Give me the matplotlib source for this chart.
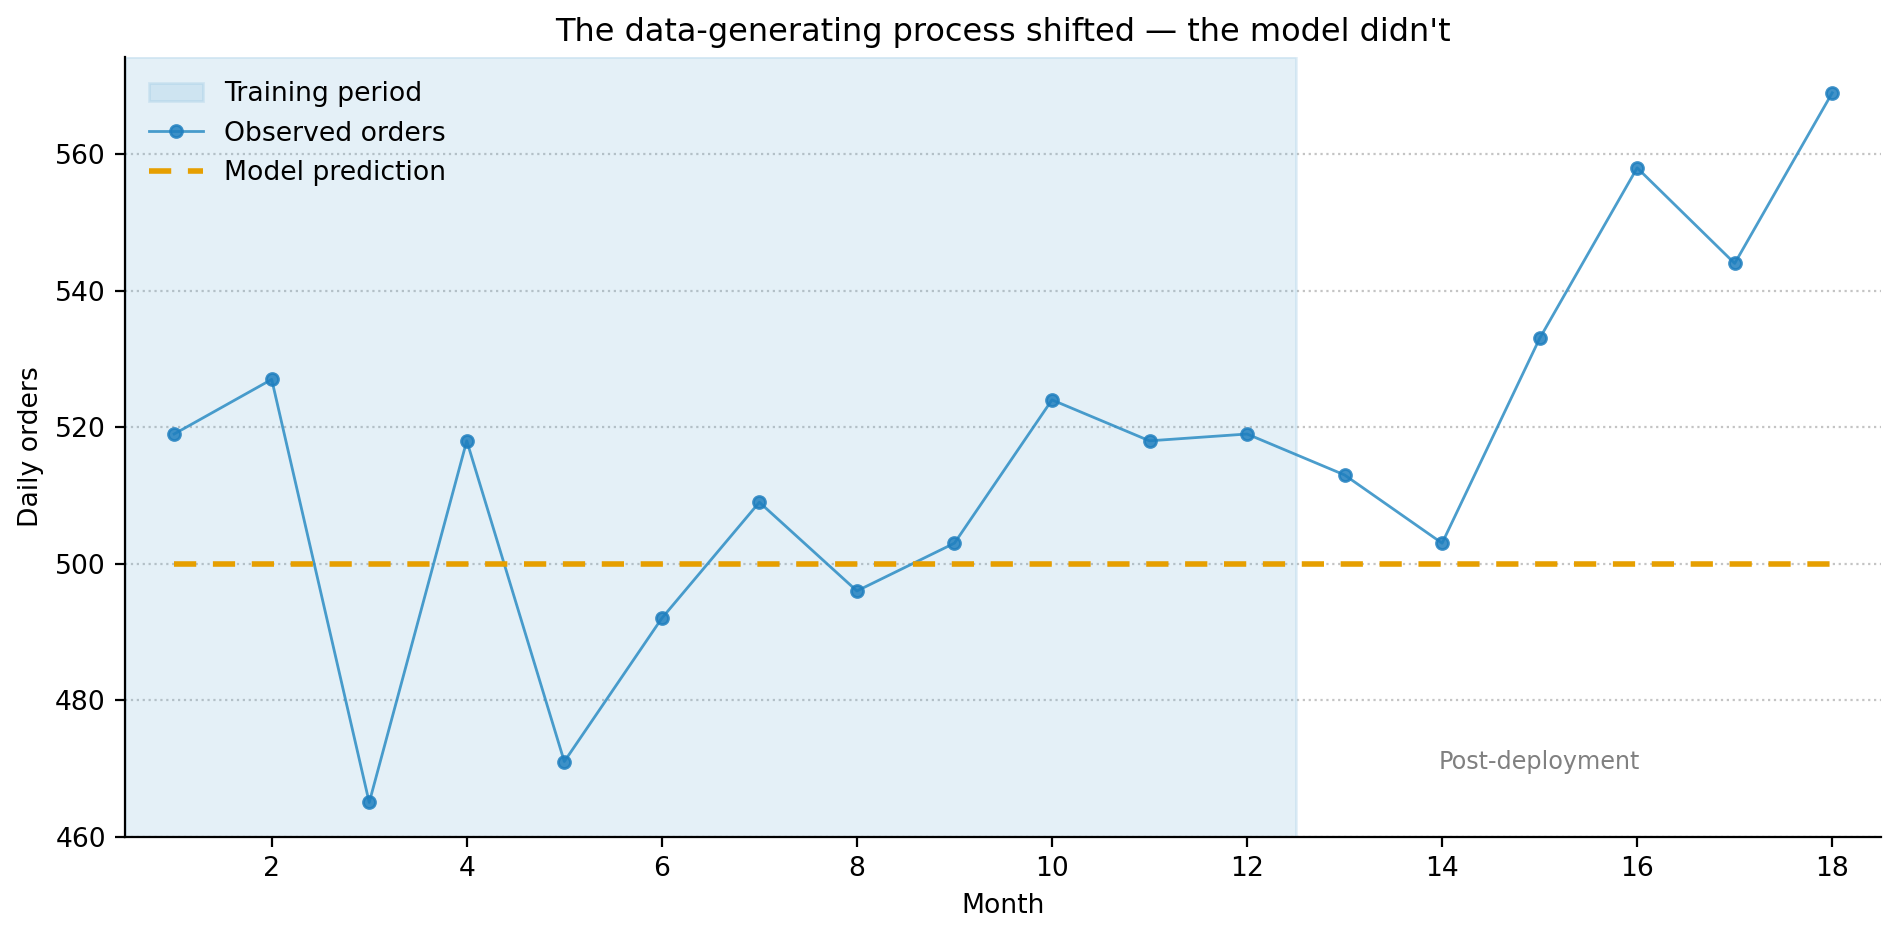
import numpy as np
import matplotlib.pyplot as plt

months = np.arange(1, 19)
orders = [519, 527, 465, 518, 471, 492, 509, 496, 503, 524, 518, 519,
          513, 503, 533, 558, 544, 569]
prediction = [500] * 18
train_end = 12.5

fig, ax = plt.subplots(figsize=(9.5, 4.7), dpi=200)

ax.axvspan(0.5, train_end, color='#6baed6', alpha=0.18, label='Training period')
ax.plot(months, orders, color='#2b8cc4', lw=1.0, marker='o', markersize=4.3,
        markerfacecolor='#1f7fbf', markeredgecolor='#1f7fbf', alpha=0.85,
        label='Observed orders')
ax.plot(months, prediction, color='#E69F00', lw=2.0, ls=(0, (4, 3)),
        label='Model prediction')

ax.text(15, 471, 'Post-deployment', color='grey', fontsize=8.6, ha='center', va='center')

ax.set_xlim(0.5, 18.5)
ax.set_ylim(bottom=460)
ax.set_xticks([2, 4, 6, 8, 10, 12, 14, 16, 18])
ax.grid(axis='y', linestyle=':', color='#c4c4c4', lw=0.8)
ax.set_axisbelow(True)
for s in ['top', 'right']:
    ax.spines[s].set_visible(False)

ax.set_title("The data-generating process shifted \u2014 the model didn't", fontsize=11.5)
ax.set_xlabel('Month', fontsize=9.6)
ax.set_ylabel('Daily orders', fontsize=9.6)
ax.tick_params(labelsize=9.6)
ax.legend(loc='upper left', frameon=False, fontsize=9.6)

fig.subplots_adjust(left=0.066, right=0.99, top=0.939, bottom=0.11)
fig.savefig('out.png', dpi=200)
